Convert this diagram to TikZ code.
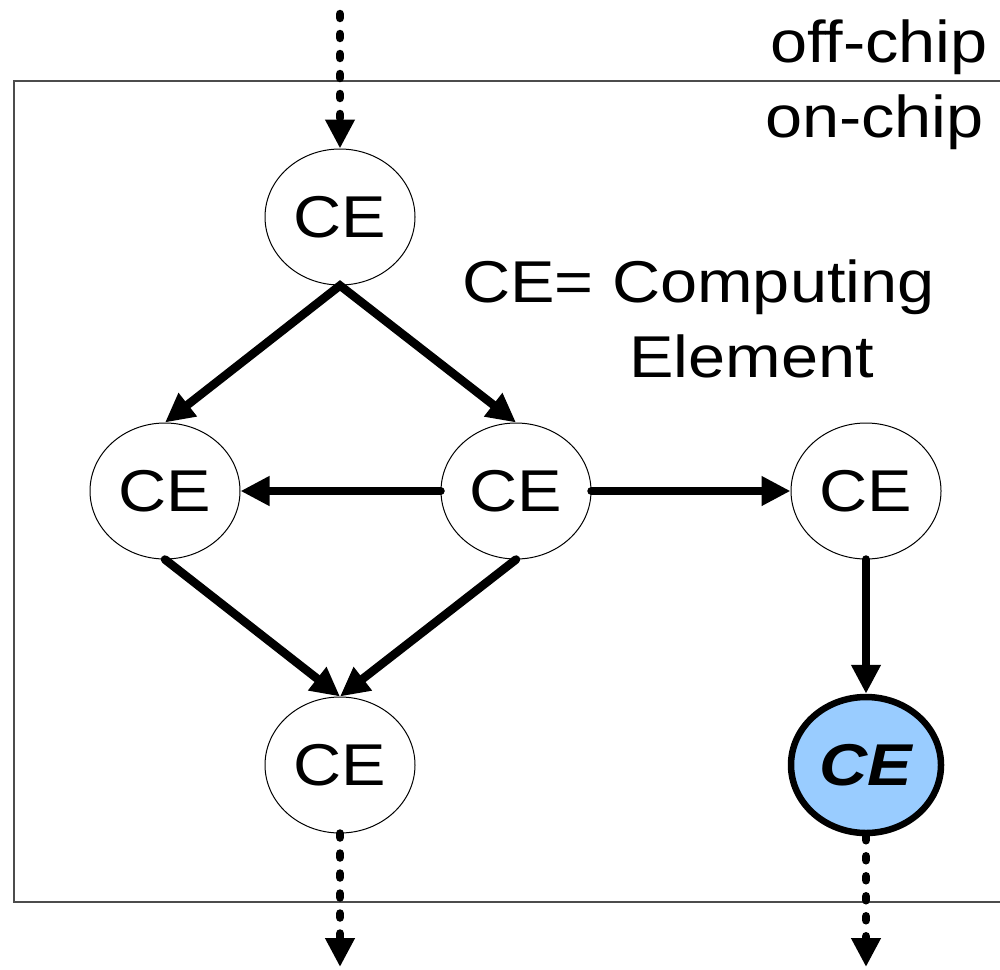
\documentclass[tikz,border=0pt]{standalone}
\usepackage{fontspec}
\setmainfont{Liberation Sans}
\usetikzlibrary{shapes.geometric,arrows.meta}
\definecolor{ceblue}{HTML}{99CCFF}
\newcommand{\bigfont}{\fontsize{59}{66}\selectfont}
\newcommand{\wide}[1]{\scalebox{1.13}[1]{#1}}

\begin{document}
\begin{tikzpicture}[x=1pt,y=-1pt,
  ce/.style={ellipse, draw=black, line width=1pt, fill=white,
    minimum width=150pt, minimum height=136pt, inner sep=0pt, font=\bigfont},
  hot/.style={ce, fill=ceblue, line width=6.5pt, font=\bigfont\bfseries\itshape},
  tip/.style={-{Triangle[length=29pt,width=28pt]}},
  flow/.style={line width=8.5pt, line cap=round, tip},
  io/.style={flow, dash pattern=on 4pt off 16pt},
  chip/.style={draw=black!70, line width=1.5pt},
  lbl/.style={font=\bigfont, inner sep=0pt}
]
\useasboundingbox (0,0) rectangle (1000,969);

% chip boundary (runs off the right edge)
\draw[chip] (1000,81) -- (14,81) -- (14,902) -- (1000,902);

% labels
\node[lbl, anchor=base east] (off) at (988,62) {\wide{off-chip}};
\node[lbl, anchor=base east] (on) at (984,137) {\wide{on-chip}};
\node[lbl, anchor=base west] (legend1) at (462,302) {\wide{CE= Computing}};
\node[lbl, anchor=base west] (legend2) at (629,377) {\wide{Element}};

% computing elements
\node[ce] (top) at (340,217) {\wide{CE}};
\node[ce] (ml) at (165,491) {\wide{CE}};
\node[ce] (mc) at (516,491) {\wide{CE}};
\node[ce] (mr) at (866,491) {\wide{CE}};
\node[ce] (bl) at (340,765) {\wide{CE}};
\node[hot] (br) at (866,765) {\wide{CE}};

% off-chip terminals
\coordinate (in) at (340,14);
\coordinate (outl) at (340,967);
\coordinate (outr) at (866,967);

% data flow
\draw[io] (in) -- (top.north);
\draw[line width=8.5pt, miter limit=20,
      {Triangle[length=29pt,width=28pt]}-{Triangle[length=29pt,width=28pt]}]
  (ml.north) -- (top.south) -- (mc.north);
\draw[flow] (mc.west) -- (ml.east);
\draw[flow] (mc.east) -- (mr.west);
\draw[flow] (ml.south) -- (bl.north);
\draw[flow] (mc.south) -- (bl.north);
\draw[flow] (mr.south) -- (br.north);
\draw[io] (bl.south) -- (outl);
\draw[io] (br.south) -- (outr);
\end{tikzpicture}
\end{document}
